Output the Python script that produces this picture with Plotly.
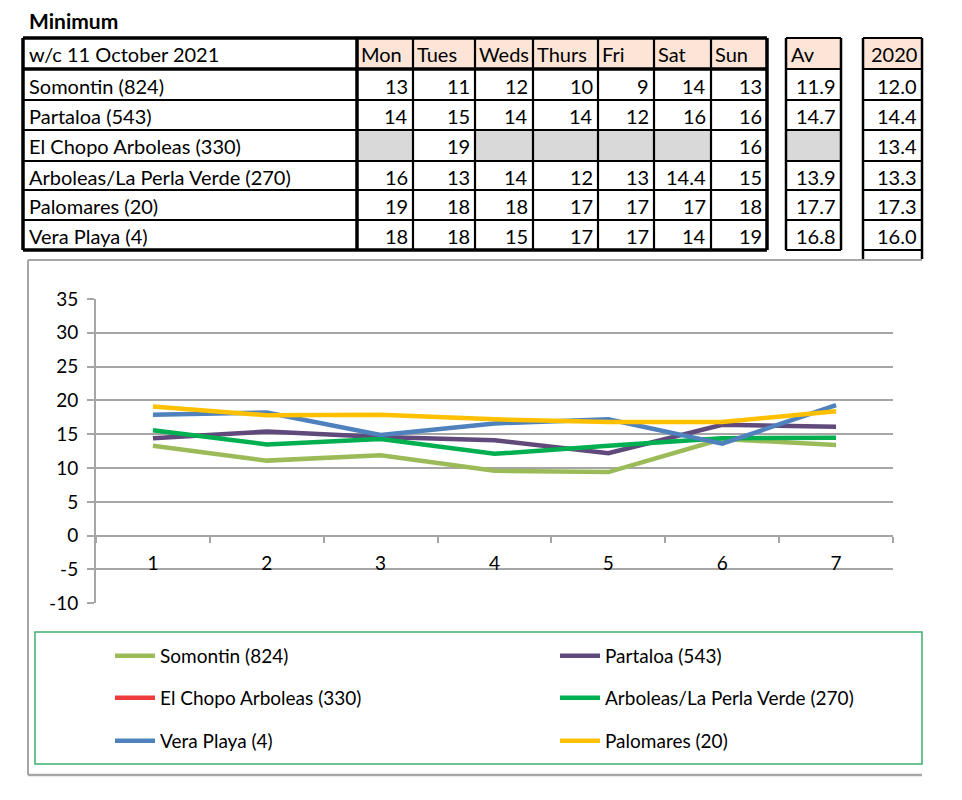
import plotly.graph_objects as go

W, H = 962, 800
OFF = 8  # page body margin in the browser
FONT = "Lato"

# ---------------- data ----------------
table_title = "w/c 11 October 2021"
days = ["Mon", "Tues", "Weds", "Thurs", "Fri", "Sat", "Sun"]
table_stations = ["Somontin (824)", "Partaloa (543)", "El Chopo Arboleas (330)",
                  "Arboleas/La Perla Verde (270)", "Palomares (20)", "Vera Playa (4)"]
table_values = [
    ["13", "11", "12", "10", "9", "14", "13"],
    ["14", "15", "14", "14", "12", "16", "16"],
    [None, "19", None, None, None, None, "16"],
    ["16", "13", "14", "12", "13", "14.4", "15"],
    ["19", "18", "18", "17", "17", "17", "18"],
    ["18", "18", "15", "17", "17", "14", "19"],
]
av_values = ["11.9", "14.7", None, "13.9", "17.7", "16.8"]
prev_values = ["12.0", "14.4", "13.4", "13.3", "17.3", "16.0"]

x_days = [1, 2, 3, 4, 5, 6, 7]
x_labels = ["1", "2", "3", "4", "5", "6", "7"]
y_ticks = [-10, -5, 0, 5, 10, 15, 20, 25, 30, 35]
y_labels = ["-10", "-5", "0", "5", "10", "15", "20", "25", "30", "35"]

somontin = [13.3, 11.1, 11.9, 9.6, 9.4, 14.3, 13.4]
partaloa = [14.4, 15.4, 14.6, 14.1, 12.2, 16.4, 16.1]
el_chopo = [None, None, None, None, None, None, None]
arboleas = [15.6, 13.5, 14.3, 12.1, 13.3, 14.4, 14.5]
vera_playa = [17.9, 18.2, 14.9, 16.6, 17.2, 13.6, 19.3]
palomares = [19.1, 17.8, 17.9, 17.2, 16.8, 16.8, 18.4]

series = [
    ("Somontin (824)", somontin, "#9bbb59"),
    ("Partaloa (543)", partaloa, "#604a7b"),
    ("El Chopo Arboleas (330)", el_chopo, "#ee3b3b"),
    ("Arboleas/La Perla Verde (270)", arboleas, "#00b050"),
    ("Vera Playa (4)", vera_playa, "#4f81bd"),
    ("Palomares (20)", palomares, "#ffc000"),
]

# ---------------- helpers ----------------
def px(x):
    return (x - OFF) / W


def py(y):
    return 1 - (y - OFF) / H


shapes = []
annotations = []


def rect(x0, y0, x1, y1, fill=None, color=None, width=0):
    d = dict(type="rect", xref="paper", yref="paper",
             x0=px(x0), x1=px(x1), y0=py(y1), y1=py(y0), layer="below")
    d["fillcolor"] = fill if fill else "rgba(0,0,0,0)"
    d["line"] = dict(color=color if color else "rgba(0,0,0,0)", width=width)
    shapes.append(d)


def line(x0, y0, x1, y1, color="black", width=2, layer="above"):
    shapes.append(dict(type="line", xref="paper", yref="paper",
                       x0=px(x0), x1=px(x1), y0=py(y0), y1=py(y1),
                       line=dict(color=color, width=width), layer=layer))


def text(x, y, s, anchor="left", size=20, bold=False):
    annotations.append(dict(xref="paper", yref="paper", x=px(x), y=py(y),
                            text=("<b>%s</b>" % s) if bold else s, showarrow=False,
                            xanchor=anchor, yanchor="middle",
                            font=dict(family=FONT, size=size, color="black")))


# ---------------- table ----------------
col_edges = [23, 357, 413, 475, 533, 598, 654, 711, 767]
row_edges = [38, 69, 100, 130, 161, 190, 220, 250]
av_box = [786, 841]
prev_box = [863, 922]
peach = "#fce4d6"
grey = "#d9d9d9"

text(27, 20, "Minimum", size=21, bold=True)

for j in range(len(days)):
    rect(col_edges[j + 1], row_edges[0], col_edges[j + 2], row_edges[1], fill=peach)
rect(av_box[0], row_edges[0], av_box[1], row_edges[1], fill=peach)
rect(prev_box[0], row_edges[0], prev_box[1], row_edges[1], fill=peach)

for i, row in enumerate(table_values):
    for j, v in enumerate(row):
        if v is None:
            rect(col_edges[j + 1], row_edges[i + 1], col_edges[j + 2], row_edges[i + 2], fill=grey)
    if av_values[i] is None:
        rect(av_box[0], row_edges[i + 1], av_box[1], row_edges[i + 2], fill=grey)

for k, yv in enumerate(row_edges):
    w = 3.5 if k in (0, 1, len(row_edges) - 1) else 2.2
    line(col_edges[0], yv, col_edges[-1], yv, width=w)
for k, xv in enumerate(col_edges):
    w = 3.5 if k in (0, 1, len(col_edges) - 1) else 2.2
    line(xv, row_edges[0], xv, row_edges[-1], width=w)
for box in (av_box, prev_box):
    for yv in row_edges:
        line(box[0], yv, box[1], yv, width=2.2)
    bottom = row_edges[-1] if box is av_box else 259
    line(box[0], row_edges[0], box[0], bottom, width=2.5)
    line(box[1], row_edges[0], box[1], bottom, width=2.5)

hy = (row_edges[0] + row_edges[1]) / 2 + 1
text(col_edges[0] + 4, hy, table_title)
for j, d in enumerate(days):
    text(col_edges[j + 1] + 2, hy, d)
text(av_box[0] + 3, hy, "Av")
text(prev_box[1] - 3, hy, "2020", anchor="right")

for i, name in enumerate(table_stations):
    yc = (row_edges[i + 1] + row_edges[i + 2]) / 2 + 1
    text(col_edges[0] + 4, yc, name)
    for j, v in enumerate(table_values[i]):
        if v is not None:
            text(col_edges[j + 2] - 3, yc, v, anchor="right")
    if av_values[i] is not None:
        text(av_box[1] - 3, yc, av_values[i], anchor="right")
    text(prev_box[1] - 3, yc, prev_values[i], anchor="right")

# ---------------- chart frame ----------------
frame_col = "#a6a6a6"
line(28, 260, 922, 260, color=frame_col, width=2, layer="below")
line(28, 260, 28, 775, color=frame_col, width=2, layer="below")
line(28, 775, 922, 775, color=frame_col, width=2.5, layer="below")
rect(35, 632, 922, 764, color="#3cb06e", width=1.5)

# ---------------- plot ----------------
ymin, ymax = -10, 35
dom_y = [py(603.3), py(299)]
zero_pos = dom_y[0] + (0 - ymin) / (ymax - ymin) * (dom_y[1] - dom_y[0])

legend_pos = [(110, 656), (555, 656), (110, 698), (555, 698), (110, 741), (555, 741)]
legend_ids = ["legend", "legend2", "legend3", "legend4", "legend5", "legend6"]

fig = go.Figure()
for (name, vals, col), lid in zip(series, legend_ids):
    fig.add_trace(go.Scatter(x=x_days, y=vals, name=name, mode="lines",
                             line=dict(color=col, width=4.5), legend=lid,
                             connectgaps=False))

legends = {}
for lid, (lx, ly) in zip(legend_ids, legend_pos):
    legends[lid] = dict(x=px(lx), y=py(ly), orientation="v", xanchor="left", yanchor="middle",
                        bgcolor="rgba(0,0,0,0)", itemwidth=40,
                        font=dict(family=FONT, size=19, color="black"),
                        itemclick=False, itemdoubleclick=False)

fig.update_layout(
    width=W, height=H, margin=dict(l=0, r=0, t=0, b=0, autoexpand=False),
    paper_bgcolor="white", plot_bgcolor="white",
    font=dict(family=FONT, size=18, color="black"),
    xaxis=dict(domain=[px(96), px(893)], range=[0.5, 7.5], anchor="free",
               position=zero_pos, tickvals=x_days, ticktext=x_labels,
               showgrid=False, zeroline=False, showline=True, linecolor=frame_col,
               linewidth=2, ticks="", ticklabelstandoff=11,
               tickfont=dict(family=FONT, size=19, color="black"),
               minor=dict(tick0=0.5, dtick=1, ticks="outside", ticklen=6,
                          tickcolor=frame_col, tickwidth=2, showgrid=False),
               fixedrange=True),
    yaxis=dict(domain=dom_y, range=[ymin, ymax], tickvals=y_ticks, ticktext=y_labels,
               showgrid=True, gridcolor=frame_col, gridwidth=2, zeroline=False,
               showline=True, linecolor=frame_col, linewidth=2,
               ticks="outside", ticklen=7, tickcolor=frame_col, tickwidth=2,
               tickfont=dict(family=FONT, size=19, color="black"),
               ticklabelstandoff=5, fixedrange=True),
    shapes=shapes, annotations=annotations, showlegend=True,
    **legends,
)

fig.write_html("out.html")
